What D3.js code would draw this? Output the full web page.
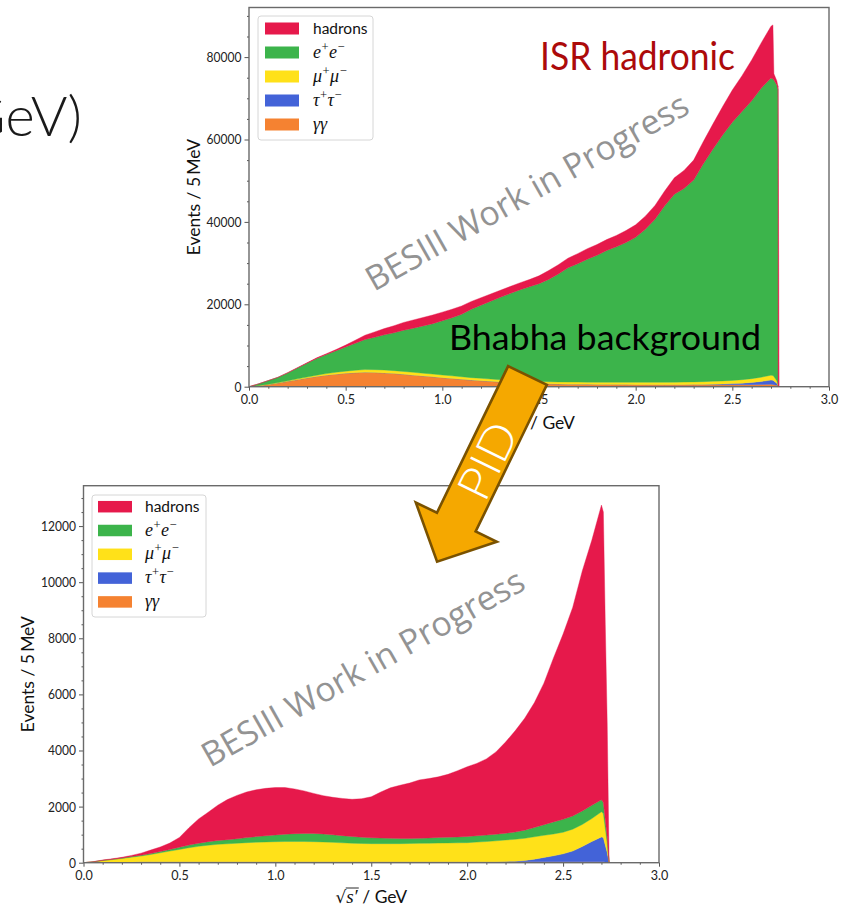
<!DOCTYPE html>
<html>
<head>
<meta charset="utf-8">
<title>ISR hadronic selection</title>
<script src="https://cdn.jsdelivr.net/npm/d3@7/dist/d3.min.js"></script>
<style>
  html, body { margin: 0; padding: 0; background: #fff; }
  svg { display: block; }
  .tick text { font-family: Lato, "DejaVu Sans", sans-serif; font-size: 14px; fill: #222; }
  .tick line { stroke: #555; stroke-width: 1; }
</style>
</head>
<body>
<svg id="figure" width="848" height="906" xmlns="http://www.w3.org/2000/svg"></svg>
<script>
// ---------- data: events per 5 MeV, read along sqrt(s') in GeV ----------
// Before PID (all ISR candidates)
const energyUpper = [0.00,0.05,0.10,0.15,0.20,0.25,0.30,0.35,0.40,0.45,0.50,0.55,0.60,0.65,0.70,0.75,0.80,0.85,0.90,0.95,
  1.00,1.05,1.10,1.15,1.20,1.25,1.30,1.35,1.40,1.45,1.50,1.55,1.60,1.65,1.70,1.75,1.80,1.85,1.90,1.95,
  2.00,2.05,2.10,2.15,2.20,2.25,2.30,2.35,2.40,2.45,2.50,2.55,2.60,2.65,2.70,2.71,2.715,2.73,2.736,2.737,2.742];
const hadronsUpper = [0,10,20,30,45,60,90,150,200,280,450,750,1050,1300,1500,1700,1900,2000,2050,2100,
  2100,2080,2000,1900,1800,1750,1700,1700,1700,1750,1900,2150,2250,2350,2450,2550,2600,2650,2750,2900,
  3050,3200,3350,3600,4000,4400,4850,5400,6100,6900,7800,8700,9900,11000,12600,13100,1500,1000,800,73000,0];
const eeUpper = [0,410,870,1270,1905,2640,3360,4050,4620,5220,5880,6550,7300,7870,8550,9200,10000,10710,11470,12230,
  13150,14080,15180,16600,17770,18890,20010,21080,22100,22950,23750,24850,26200,27720,28730,29850,30820,31970,32880,33930,
  35180,37130,39580,42830,45610,46980,48980,52870,56380,59690,62670,65090,67440,70180,72100,72000,72000,71800,71500,0,0];
const mumuUpper = [0,30,60,100,150,200,250,300,380,450,520,600,650,680,700,700,700,690,680,670,
  650,640,620,600,580,560,540,520,500,500,500,500,500,510,520,520,530,540,550,560,
  570,580,590,600,610,630,650,680,710,740,780,850,930,1050,1200,1150,1050,600,250,0,0];
const tautauUpper = [0,0,0,0,0,0,0,0,0,0,0,0,0,0,0,0,0,0,0,0,
  0,0,0,0,0,0,0,0,0,0,0,0,0,0,0,0,0,0,0,0,
  0,0,0,0,10,30,60,100,160,220,300,400,550,750,1000,1000,900,500,200,0,0];
const gammaUpper = [0,250,550,900,1300,1700,2100,2500,2800,3050,3250,3400,3500,3450,3350,3200,3000,2800,2600,2400,
  2200,2000,1800,1600,1450,1300,1150,1000,900,800,750,700,650,620,600,580,550,540,520,510,
  500,490,480,470,470,460,460,450,450,450,450,460,480,520,600,560,500,350,150,0,0];

// After PID
const energyLower = [0.00,0.05,0.10,0.15,0.20,0.25,0.30,0.35,0.40,0.45,0.50,0.55,0.60,0.65,0.70,0.75,0.80,0.85,0.90,0.95,
  1.00,1.05,1.10,1.15,1.20,1.25,1.30,1.35,1.40,1.45,1.50,1.55,1.60,1.65,1.70,1.75,1.80,1.85,1.90,1.95,
  2.00,2.05,2.10,2.15,2.20,2.25,2.30,2.35,2.40,2.45,2.50,2.55,2.60,2.65,2.70,2.71,2.72,2.73,2.74];
const hadronsLower = [0,5,12,18,25,40,70,120,160,230,345,620,865,1050,1260,1430,1545,1625,1670,1690,
  1690,1665,1595,1515,1425,1365,1335,1325,1325,1370,1460,1640,1800,1895,1975,2080,2115,2160,2240,2360,
  2485,2580,2715,2935,3250,3605,3990,4445,5045,5845,6605,7435,8555,9455,10505,10350,6975,4085,0];
const eeLower = [0,3,8,12,15,22,30,38,46,55,80,95,110,125,135,145,160,180,200,220,
  240,260,280,290,295,285,270,255,240,225,210,200,190,185,180,180,190,200,205,210,
  220,225,230,235,240,260,290,330,380,430,460,470,480,470,430,400,300,200,0];
const mumuLower = [0,20,60,90,125,170,210,260,320,380,440,500,550,590,620,640,660,680,695,705,
  715,720,720,720,715,705,690,675,660,650,645,645,645,645,650,655,660,665,670,675,
  680,700,720,745,765,780,790,800,790,780,770,780,790,820,900,850,600,350,0];
const tautauLower = [0,0,0,0,0,0,0,0,0,0,0,0,0,0,0,0,0,0,0,0,
  0,0,0,0,0,0,0,0,0,0,0,0,0,0,0,0,0,0,0,0,
  0,0,0,0,10,20,45,90,150,210,280,380,540,720,880,870,600,350,0];
const gammaLower = [0,8,15,20,25,28,30,32,34,35,35,35,35,35,35,35,35,35,35,35,
  35,35,35,35,35,35,35,35,35,35,35,35,35,35,35,35,35,35,35,35,
  35,35,35,35,35,35,35,35,35,35,35,35,35,35,35,30,25,15,0];

// axis ticks
const xTicks = [0.0, 0.5, 1.0, 1.5, 2.0, 2.5, 3.0];
const xMinorTicks = [0.1,0.2,0.3,0.4,0.6,0.7,0.8,0.9,1.1,1.2,1.3,1.4,1.6,1.7,1.8,1.9,2.1,2.2,2.3,2.4,2.6,2.7,2.8,2.9];
const yTicksUpper = [0, 20000, 40000, 60000, 80000];
const yMinorUpper = [5000,10000,15000,25000,30000,35000,45000,50000,55000,65000,70000,75000,85000,90000];
const yTicksLower = [0, 2000, 4000, 6000, 8000, 10000, 12000];
const yMinorLower = [500,1000,1500,2500,3000,3500,4500,5000,5500,6500,7000,7500,8500,9000,9500,10500,11000,11500,12500,13000];

// legend entries, top to bottom
const legendKeys = ['had', 'ee', 'mm', 'tt', 'gg'];
const legendText = {
  had: [['hadrons', 'plain']],
  ee:  [['e', 'it'], ['+', 'sup'], ['e', 'it'], ['\u2212', 'sup']],
  mm:  [['\u03bc', 'it'], ['+', 'sup'], ['\u03bc', 'it'], ['\u2212', 'sup']],
  tt:  [['\u03c4', 'it'], ['+', 'sup'], ['\u03c4', 'it'], ['\u2212', 'sup']],
  gg:  [['\u03b3\u03b3', 'it']]
};

// ---------- styling ----------
const STACK_ORDER = ['gg', 'tt', 'mm', 'ee', 'had'];
const FILL = { had: '#e6194b', ee: '#3cb44b', mm: '#ffe119', tt: '#4363d8', gg: '#f58231' };
const SANS = 'Lato, "DejaVu Sans", sans-serif';
const SERIF = '"Liberation Serif", "DejaVu Serif", serif';

const svg = d3.select('#figure');
svg.append('rect').attr('width', 848).attr('height', 906).attr('fill', '#fff');

// narrow the tick labels horizontally around their anchor point
function squeeze(sel, s) {
  sel.each(function () {
    const t = d3.select(this);
    const ax = +t.attr('x') || 0, ay = +t.attr('y') || 0;
    t.attr('transform', `translate(${ax},${ay}) scale(${s},1) translate(${-ax},${-ay})`);
  });
}

function drawPanel(cfg) {
  const g = svg.append('g').attr('class', 'panel ' + cfg.name);
  const x = d3.scaleLinear().domain([0, 3]).range([cfg.left, cfg.right]);
  const y = d3.scaleLinear().domain([0, cfg.ymax]).range([cfg.bottom, cfg.top]);

  const rows = cfg.energy.map((e, i) => ({
    e, had: cfg.had[i], ee: cfg.ee[i], mm: cfg.mm[i], tt: cfg.tt[i], gg: cfg.gg[i]
  }));
  const layers = d3.stack().keys(STACK_ORDER)(rows);
  const area = d3.area()
    .x(d => x(d.data.e))
    .y0(d => y(d[0]))
    .y1(d => y(d[1]));

  const clipId = 'clip-' + cfg.name;
  g.append('clipPath').attr('id', clipId).append('rect')
    .attr('x', cfg.left).attr('y', cfg.top)
    .attr('width', cfg.right - cfg.left).attr('height', cfg.bottom - cfg.top);

  g.append('g').attr('clip-path', `url(#${clipId})`)
    .selectAll('path').data(layers).join('path')
    .attr('fill', d => FILL[d.key])
    .attr('stroke', d => FILL[d.key])
    .attr('stroke-width', 0.4)
    .attr('d', area);

  // axes
  const xa = g.append('g').attr('transform', `translate(0,${cfg.bottom})`)
    .call(d3.axisBottom(x).tickValues(xTicks).tickSize(4).tickSizeOuter(0).tickPadding(3)
      .tickFormat(d3.format('.1f')));
  xa.select('.domain').remove();
  squeeze(xa.selectAll('.tick text'), 0.9);
  const xm = g.append('g').attr('transform', `translate(0,${cfg.bottom})`)
    .call(d3.axisBottom(x).tickValues(xMinorTicks).tickSize(2).tickSizeOuter(0).tickFormat(''));
  xm.select('.domain').remove();

  const ya = g.append('g').attr('transform', `translate(${cfg.left},0)`)
    .call(d3.axisLeft(y).tickValues(cfg.yTicks).tickSize(4.5).tickSizeOuter(0).tickPadding(3)
      .tickFormat(d3.format('d')));
  ya.select('.domain').remove();
  squeeze(ya.selectAll('.tick text'), 0.86);
  const ym = g.append('g').attr('transform', `translate(${cfg.left},0)`)
    .call(d3.axisLeft(y).tickValues(cfg.yMinor).tickSize(2).tickSizeOuter(0).tickFormat(''));
  ym.select('.domain').remove();

  // frame
  g.append('rect')
    .attr('x', cfg.left).attr('y', cfg.top)
    .attr('width', cfg.right - cfg.left).attr('height', cfg.bottom - cfg.top)
    .attr('fill', 'none').attr('stroke', '#6a6a6a').attr('stroke-width', 1.4);

  // y label
  g.append('text')
    .attr('transform', `translate(${cfg.ylabelX},${(cfg.top + cfg.bottom) / 2}) rotate(-90)`)
    .attr('text-anchor', 'middle')
    .attr('font-family', SANS).attr('font-size', 17.5).attr('fill', '#111')
    .text('Events / 5\u2009MeV');

  // x label: sqrt(s') / GeV
  const xl = g.append('text')
    .attr('x', (cfg.left + cfg.right) / 2).attr('y', cfg.xlabelY)
    .attr('text-anchor', 'middle').attr('fill', '#111');
  xl.append('tspan').attr('font-family', '"DejaVu Sans", sans-serif').attr('font-size', 17).text('\u221a');
  xl.append('tspan').attr('font-family', SERIF).attr('font-style', 'italic').attr('font-size', 19).text('s\u2032');
  xl.append('tspan').attr('font-family', SANS).attr('font-size', 17.5).text(' / GeV');
  const node = xl.node();
  const rootEnd = node.getEndPositionOfChar(0);
  const primeEnd = node.getEndPositionOfChar(2);
  g.append('line')
    .attr('x1', rootEnd.x - 0.5).attr('x2', primeEnd.x + 1)
    .attr('y1', cfg.xlabelY - 15).attr('y2', cfg.xlabelY - 15)
    .attr('stroke', '#111').attr('stroke-width', 0.9);

  // legend
  const L = cfg.legend;
  const lg = g.append('g');
  lg.append('rect')
    .attr('x', L.x).attr('y', L.y).attr('width', L.w).attr('height', L.h)
    .attr('rx', 3).attr('fill', '#fff').attr('fill-opacity', 0.85)
    .attr('stroke', '#d6d6d6').attr('stroke-width', 1);
  legendKeys.forEach((k, i) => {
    const cy = L.row0 + i * L.step;
    lg.append('rect')
      .attr('x', L.patchX).attr('y', cy - L.patchH / 2)
      .attr('width', L.patchW).attr('height', L.patchH)
      .attr('fill', FILL[k]);
    const t = lg.append('text').attr('x', L.textX).attr('y', cy + 5).attr('fill', '#111');
    let raised = false;
    legendText[k].forEach(([s, kind]) => {
      const ts = t.append('tspan').text(s);
      if (kind === 'plain') {
        ts.attr('font-family', SANS).attr('font-size', 15.5);
      } else if (kind === 'it') {
        ts.attr('font-family', SERIF).attr('font-style', 'italic').attr('font-size', 18)
          .attr('dx', raised ? 0.5 : 0)
          .attr('dy', raised ? 7 : 0);
        raised = false;
      } else {
        ts.attr('font-family', SERIF).attr('font-size', 12.5).attr('dx', 0.5).attr('dy', -7);
        raised = true;
      }
    });
  });
  return { x, y };
}

drawPanel({
  name: 'upper', left: 249, right: 829, top: 7.5, bottom: 386.7, ymax: 92040,
  energy: energyUpper, had: hadronsUpper, ee: eeUpper, mm: mumuUpper, tt: tautauUpper, gg: gammaUpper,
  yTicks: yTicksUpper, yMinor: yMinorUpper, ylabelX: 200, xlabelY: 429,
  legend: { x: 258, y: 16, w: 115, h: 124, patchX: 265, patchW: 34, patchH: 12, row0: 28.5, step: 24, textX: 313 }
});

drawPanel({
  name: 'lower', left: 83.5, right: 659, top: 485.7, bottom: 862.7, ymax: 13440,
  energy: energyLower, had: hadronsLower, ee: eeLower, mm: mumuLower, tt: tautauLower, gg: gammaLower,
  yTicks: yTicksLower, yMinor: yMinorLower, ylabelX: 34, xlabelY: 903,
  legend: { x: 92, y: 495, w: 114, h: 122, patchX: 98, patchW: 34, patchH: 11.5, row0: 506.7, step: 23.8, textX: 145 }
});

// ---------- slide annotations ----------
// slide title fragment at the left edge
svg.append('text')
  .attr('x', 82).attr('y', 136).attr('text-anchor', 'end')
  .attr('font-family', SANS).attr('font-weight', 300).attr('font-size', 56).attr('fill', '#1a1a1a')
  .text('GeV)');

svg.append('text')
  .attr('x', 540).attr('y', 70)
  .attr('font-family', SANS).attr('font-size', 38).attr('fill', '#ac0a0a')
  .attr('textLength', 195).attr('lengthAdjust', 'spacingAndGlyphs')
  .text('ISR hadronic');

svg.append('text')
  .attr('x', 449).attr('y', 350)
  .attr('font-family', SANS).attr('font-size', 35).attr('fill', '#000')
  .attr('textLength', 312).attr('lengthAdjust', 'spacingAndGlyphs')
  .text('Bhabha background');

// preliminary-status watermarks
[[374, 292], [210, 768]].forEach(([wx, wy]) => {
  svg.append('text')
    .attr('transform', `translate(${wx},${wy}) rotate(-29.5)`)
    .attr('font-family', '"Open Sans", sans-serif').attr('font-size', 34).attr('fill', '#939393')
    .attr('textLength', 365).attr('lengthAdjust', 'spacingAndGlyphs')
    .text('BESIII Work in Progress');
});

// PID arrow from the upper to the lower histogram
const arrow = svg.append('g').attr('transform', 'translate(527.5,375.5) rotate(25.9)');
arrow.append('path')
  .attr('d', 'M-21.5,0 L21.5,0 L21.5,163 L45,163 L0,207 L-45,163 L-21.5,163 Z')
  .attr('fill', '#f5a800').attr('stroke', '#7a5200').attr('stroke-width', 2.6)
  .attr('stroke-linejoin', 'miter');
arrow.append('text')
  .attr('transform', 'translate(0,94) rotate(-90)')
  .attr('text-anchor', 'middle').attr('dominant-baseline', 'central')
  .attr('font-family', SANS).attr('font-weight', 300).attr('font-size', 46).attr('fill', '#fff')
  .attr('textLength', 80).attr('lengthAdjust', 'spacingAndGlyphs')
  .text('PID');
</script>
</body>
</html>
